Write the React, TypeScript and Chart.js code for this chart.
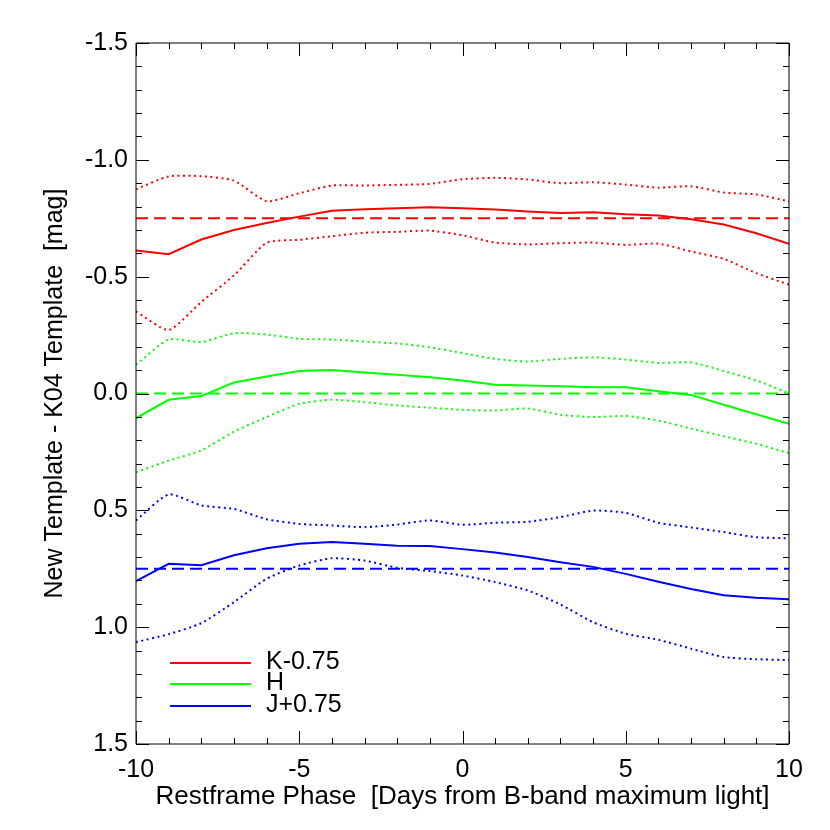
import React, { useEffect, useRef } from "react";
import { Chart, registerables } from "chart.js";

Chart.register(...registerables);

// Phase in days from B-band maximum
const days = [-10, -9, -8, -7, -6, -5, -4, -3, -2, -1, 0, 1, 2, 3, 4, 5, 6, 7, 8, 9, 10];

// K - 0.75
const kMid = [-0.612, -0.596, -0.659, -0.700, -0.730, -0.757, -0.782, -0.789, -0.793, -0.797, -0.793, -0.787, -0.779, -0.772, -0.776, -0.767, -0.762, -0.746, -0.723, -0.686, -0.641];
const kUpper = [-0.874, -0.929, -0.930, -0.911, -0.823, -0.857, -0.890, -0.890, -0.893, -0.897, -0.917, -0.923, -0.916, -0.900, -0.904, -0.894, -0.881, -0.887, -0.860, -0.852, -0.822];
const kLower = [-0.351, -0.272, -0.392, -0.505, -0.645, -0.658, -0.673, -0.688, -0.692, -0.697, -0.677, -0.646, -0.638, -0.643, -0.646, -0.636, -0.641, -0.608, -0.576, -0.515, -0.466];

// H
const hMid = [0.106, 0.027, 0.011, -0.047, -0.073, -0.096, -0.101, -0.090, -0.080, -0.070, -0.056, -0.037, -0.034, -0.031, -0.027, -0.027, -0.010, 0.006, 0.048, 0.089, 0.130];
const hUpper = [-0.123, -0.231, -0.220, -0.258, -0.252, -0.234, -0.231, -0.222, -0.214, -0.198, -0.173, -0.148, -0.137, -0.148, -0.155, -0.145, -0.131, -0.133, -0.096, -0.056, -0.001];
const hLower = [0.337, 0.287, 0.244, 0.163, 0.101, 0.044, 0.027, 0.037, 0.051, 0.061, 0.070, 0.073, 0.064, 0.091, 0.101, 0.096, 0.116, 0.150, 0.183, 0.215, 0.255];

// J + 0.75
const jMid = [0.803, 0.729, 0.735, 0.692, 0.662, 0.643, 0.635, 0.643, 0.652, 0.653, 0.666, 0.680, 0.700, 0.722, 0.742, 0.772, 0.806, 0.837, 0.863, 0.874, 0.880];
const jUpper = [0.543, 0.432, 0.479, 0.494, 0.538, 0.558, 0.565, 0.572, 0.561, 0.543, 0.562, 0.553, 0.549, 0.529, 0.501, 0.511, 0.553, 0.573, 0.593, 0.615, 0.620];
const jLower = [1.064, 1.030, 0.983, 0.893, 0.793, 0.736, 0.705, 0.715, 0.746, 0.760, 0.779, 0.807, 0.843, 0.903, 0.979, 1.028, 1.054, 1.092, 1.128, 1.137, 1.141];

// Band offsets (reference dashed lines)
const bandNames = ["K-0.75", "H", "J+0.75"];
const bandOffsets = [-0.75, 0, 0.75];
const bandColors = ["#ff0000", "#00ff00", "#0000ff"];

const xRange = [-10, 10];
const yRange = [-1.5, 1.5];

const FONT = "'Liberation Sans', Arial, Helvetica, sans-serif";

const toPts = (arr: number[]) => arr.map((v, i) => ({ x: days[i], y: v }));

const framePlugin = {
  id: "idlFrame",
  afterDatasetsDraw(chart: any) {
    const { ctx, chartArea, scales } = chart;
    const { left, right, top, bottom } = chartArea;
    const xs = scales.x;
    const ys = scales.y;
    ctx.save();
    ctx.strokeStyle = "#000";
    ctx.lineWidth = 1;
    ctx.beginPath();
    ctx.rect(left, top, right - left, bottom - top);
    // x ticks (major every 5, minor every 1)
    for (let v = xRange[0]; v <= xRange[1]; v += 1) {
      const px = Math.round(xs.getPixelForValue(v)) + 0.5;
      const len = v % 5 === 0 ? 13 : 6;
      ctx.moveTo(px, bottom);
      ctx.lineTo(px, bottom - len);
      ctx.moveTo(px, top);
      ctx.lineTo(px, top + len);
    }
    // y ticks (major every 0.5, minor every 0.1)
    for (let i = -15; i <= 15; i++) {
      const py = Math.round(ys.getPixelForValue(i / 10)) + 0.5;
      const len = i % 5 === 0 ? 13 : 6;
      ctx.moveTo(left, py);
      ctx.lineTo(left + len, py);
      ctx.moveTo(right, py);
      ctx.lineTo(right - len, py);
    }
    ctx.stroke();
    ctx.restore();
  },
  afterDraw(chart: any) {
    const { ctx } = chart;
    ctx.save();
    ctx.font = `25px ${FONT}`;
    ctx.textAlign = "left";
    ctx.textBaseline = "alphabetic";
    const lineYs = [663, 684, 706];
    bandNames.forEach((name, i) => {
      ctx.strokeStyle = bandColors[i];
      ctx.lineWidth = 2;
      ctx.setLineDash([]);
      ctx.beginPath();
      ctx.moveTo(170, lineYs[i]);
      ctx.lineTo(251, lineYs[i]);
      ctx.stroke();
      ctx.fillStyle = "#000";
      ctx.fillText(name, 266, lineYs[i] + 6);
    });
    ctx.restore();
  },
};

export default function App() {
  const ref = useRef<HTMLCanvasElement | null>(null);
  useEffect(() => {
    if (!ref.current) return;
    const mids = [kMid, hMid, jMid];
    const uppers = [kUpper, hUpper, jUpper];
    const lowers = [kLower, hLower, jLower];
    const datasets: any[] = [];
    bandNames.forEach((name, i) => {
      const c = bandColors[i];
      datasets.push({
        label: name,
        data: toPts(mids[i]),
        borderColor: c,
        borderWidth: 2,
        pointRadius: 0,
        tension: 0,
      });
      datasets.push({
        label: name + " upper",
        data: toPts(uppers[i]),
        borderColor: c,
        borderWidth: 2,
        borderDash: [2, 3.5],
        pointRadius: 0,
        tension: 0.2,
      });
      datasets.push({
        label: name + " lower",
        data: toPts(lowers[i]),
        borderColor: c,
        borderWidth: 2,
        borderDash: [2, 3.5],
        pointRadius: 0,
        tension: 0.2,
      });
      datasets.push({
        label: name + " ref",
        data: [
          { x: xRange[0], y: bandOffsets[i] },
          { x: xRange[1], y: bandOffsets[i] },
        ],
        borderColor: c,
        borderWidth: 2,
        borderDash: [12, 6],
        pointRadius: 0,
      });
    });

    const chart = new Chart(ref.current, {
      type: "line",
      data: { datasets },
      plugins: [framePlugin],
      options: {
        animation: false,
        responsive: false,
        maintainAspectRatio: false,
        layout: { padding: { top: 43, right: 41, left: 0, bottom: 0 } },
        plugins: {
          legend: { display: false },
          tooltip: { enabled: false },
        },
        scales: {
          x: {
            type: "linear",
            min: xRange[0],
            max: xRange[1],
            grid: { display: false, drawTicks: false },
            border: { display: false },
            ticks: {
              stepSize: 5,
              autoSkip: false,
              maxRotation: 0,
              padding: 11,
              color: "#000",
              font: { family: FONT, size: 25 },
              callback: (v: any) => String(v),
            },
            title: {
              display: true,
              text: "Restframe Phase  [Days from B-band maximum light]",
              color: "#000",
              font: { family: FONT, size: 26 },
              padding: { top: 0, bottom: 18 },
            },
            afterFit: (s: any) => {
              s.height = 86;
            },
          },
          y: {
            type: "linear",
            min: yRange[0],
            max: yRange[1],
            reverse: true,
            grid: { display: false, drawTicks: false },
            border: { display: false },
            ticks: {
              stepSize: 0.5,
              autoSkip: false,
              padding: 8,
              color: "#000",
              font: { family: FONT, size: 25 },
              callback: (v: any) => Number(v).toFixed(1),
            },
            title: {
              display: true,
              text: "New Template - K04 Template  [mag]",
              color: "#000",
              font: { family: FONT, size: 25 },
              padding: { top: 40, bottom: 0 },
            },
            afterFit: (s: any) => {
              s.width = 136;
            },
          },
        },
      },
    });
    return () => chart.destroy();
  }, []);

  return (
    <div style={{ position: "absolute", left: 0, top: 0, width: 830, height: 830, background: "#fff" }}>
      <canvas ref={ref} width={830} height={830} style={{ width: 830, height: 830 }} />
    </div>
  );
}
